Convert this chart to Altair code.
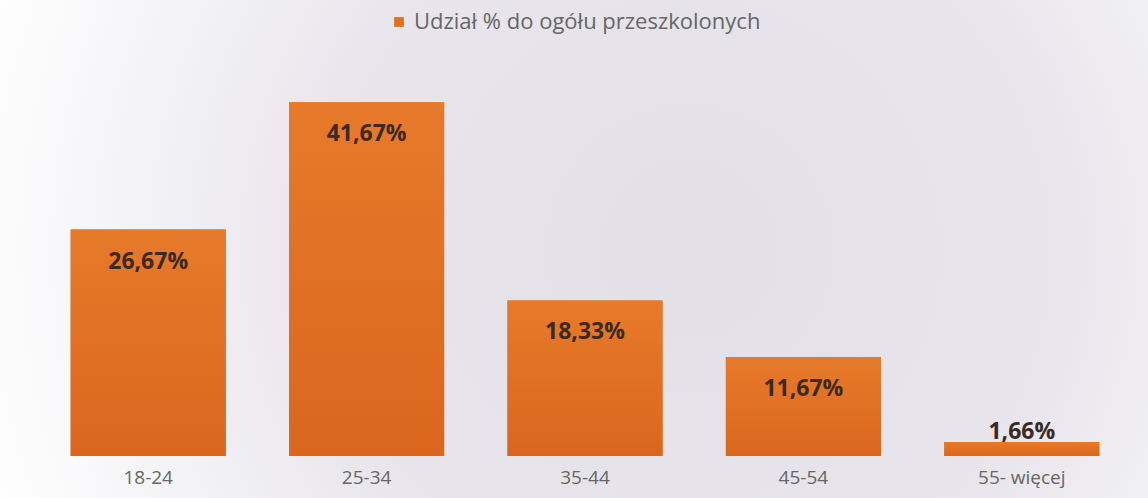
import altair as alt
import pandas as pd

categories = ["18-24", "25-34", "35-44", "45-54", "55- więcej"]
values = [26.67, 41.67, 18.33, 11.67, 1.66]
series_name = "Udział % do ogółu przeszkolonych"

labels = [f"{v:.2f}".replace(".", ",") + "%" for v in values]
df = pd.DataFrame({"cat": categories, "val": values,
                   "series": [series_name] * len(values), "label": labels})

W, H = 1092, 382
PAD = {"left": 39, "top": 74, "right": 17, "bottom": 42}
BAR = "#E2711F"

x = alt.X("cat:N", sort=categories,
          scale=alt.Scale(paddingInner=0.29, paddingOuter=0.145),
          axis=alt.Axis(title=None, labelAngle=0, domain=False, ticks=False,
                        labelPadding=12, labelFontSize=19, labelColor="#666666",
                        labelFont="Open Sans", zindex=2))
y = alt.Y("val:Q", scale=alt.Scale(domain=[0, 45], nice=False, zero=True), axis=None)

bg = alt.Chart(pd.DataFrame({"a": [0]})).mark_rect(
    color=alt.RadialGradient(
        gradient="radial",
        stops=[alt.GradientStop(color="#e2dfe7", offset=0),
               alt.GradientStop(color="#e8e6ec", offset=0.5),
               alt.GradientStop(color="#ffffff", offset=1)],
        x1=0.6, y1=0.5, r1=0, x2=0.6, y2=0.5, r2=0.65)
).encode(x=alt.value(-PAD["left"]), x2=alt.value(W + PAD["right"]),
         y=alt.value(-PAD["top"]), y2=alt.value(H + PAD["bottom"]))

bar_fill = alt.LinearGradient(
    gradient="linear",
    stops=[alt.GradientStop(color="#E77A2A", offset=0),
           alt.GradientStop(color="#DA661E", offset=1)],
    x1=0, x2=0, y1=0, y2=1)

bars = alt.Chart(df).mark_bar().encode(
    x=x, y=y,
    color=alt.Color("series:N", scale=alt.Scale(range=[BAR]),
                    legend=alt.Legend(title=None, orient="none", legendX=349, legendY=-63,
                                      symbolType="square", symbolSize=95,
                                      symbolStrokeWidth=0, labelFontSize=22,
                                      labelColor="#666666", labelFont="Open Sans",
                                      labelOffset=4, labelLimit=0, zindex=2)))

bars_shade = alt.Chart(df).mark_bar(color=bar_fill).encode(x=x, y=y)

text_in = alt.Chart(df).transform_filter("datum.val >= 5").mark_text(
    font="Open Sans", fontWeight="bold", fontSize=23, color="#3a2a20",
    baseline="middle", dy=32).encode(x=x, y=y, text="label:N")

text_out = alt.Chart(df).transform_filter("datum.val < 5").mark_text(
    font="Open Sans", fontWeight="bold", fontSize=23, color="#3a2a20",
    baseline="middle", dy=-10).encode(x=x, y=y, text="label:N")

chart = alt.layer(bg, bars, bars_shade, text_in, text_out).properties(
    width=W, height=H, padding=PAD,
    autosize=alt.AutoSizeParams(type="none"), background="#ffffff"
).configure_view(stroke=None)

chart.save("out.html", embed_options={"renderer": "svg", "actions": False})
